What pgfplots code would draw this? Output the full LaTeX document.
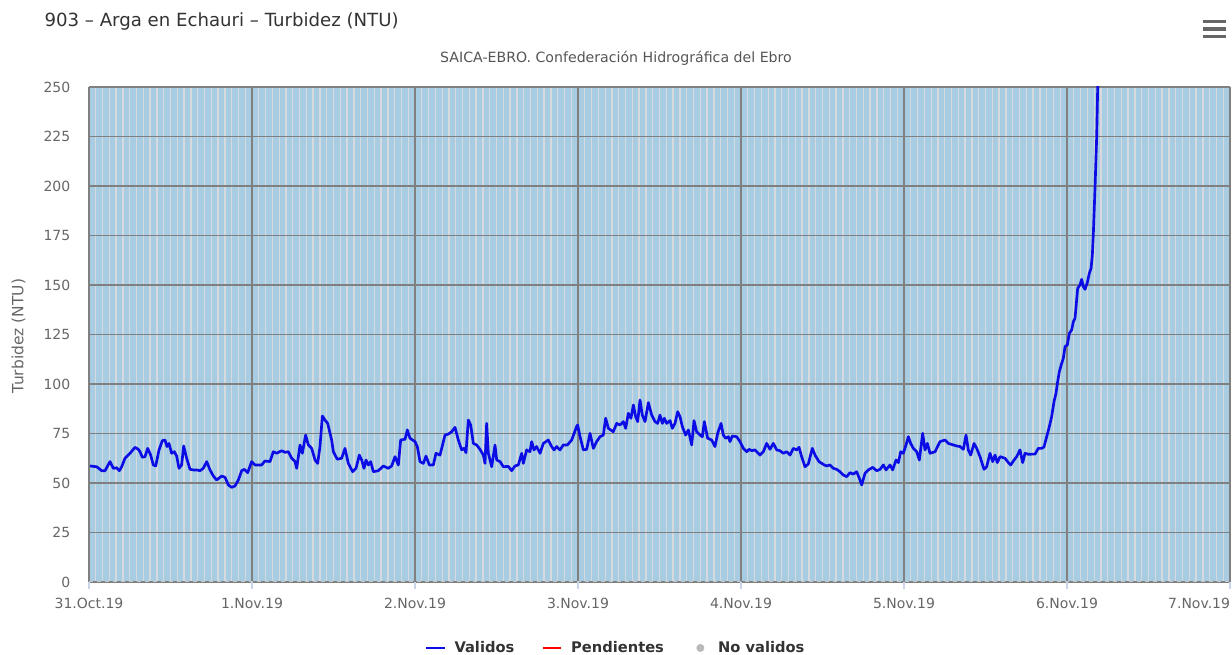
\documentclass[border=0pt]{standalone}
\usepackage{fontspec}
\setmainfont{DejaVu Sans}
\usepackage{pgfplots}
\usepackage{pgfplotstable}
\pgfplotsset{compat=1.18}
\definecolor{plotbg}{RGB}{168,204,226}
\definecolor{hourline}{RGB}{214,217,221}
\definecolor{gridgray}{RGB}{128,128,128}
\definecolor{txtgray}{RGB}{102,102,102}
\definecolor{subgray}{RGB}{85,85,85}
\definecolor{titlegray}{RGB}{51,51,51}
\definecolor{serieblue}{RGB}{12,12,228}
\definecolor{tickblue}{RGB}{204,214,235}

% hours since 31 Oct 2019 00:00, turbidity (NTU)
\pgfplotstableread{
h v
0.15 58.6
1.13 58.2
1.87 56.2
2.36 56.2
3.09 60.8
3.58 57.4
4.07 57.7
4.47 56.2
4.81 58.2
5.30 62.5
6.04 65.0
6.77 68.0
7.26 67.0
7.51 65.8
7.85 63.0
8.25 63.3
8.64 67.5
9.08 64.1
9.47 59.1
9.82 58.6
10.31 66.7
10.80 71.4
11.19 71.7
11.48 68.4
11.78 70.0
12.17 65.0
12.56 65.8
12.91 63.6
13.25 57.4
13.64 59.1
13.94 68.7
14.38 62.5
14.87 56.9
15.36 56.6
15.85 56.6
16.34 56.2
16.83 57.4
17.33 60.8
17.82 56.6
18.31 53.5
18.80 51.5
19.53 53.5
20.02 52.9
20.52 49.0
21.01 47.8
21.50 48.5
21.99 51.5
22.48 56.2
22.87 56.9
23.36 55.2
23.95 60.8
24.44 59.1
25.42 59.1
25.91 61.1
26.65 60.8
27.14 65.8
27.63 65.0
28.37 66.3
28.86 65.5
29.35 65.8
29.84 62.5
30.33 60.8
30.58 57.4
31.07 69.2
31.41 65.0
31.90 74.2
32.30 69.2
32.79 67.5
33.28 61.6
33.67 59.9
34.01 68.4
34.36 83.8
34.75 81.8
35.14 80.1
35.73 71.7
35.98 65.8
36.56 62.0
37.20 62.5
37.69 67.5
38.18 59.9
38.82 55.7
39.31 57.4
39.80 64.1
40.15 61.6
40.49 57.4
40.79 61.6
41.13 59.1
41.47 60.8
41.87 55.7
42.60 56.2
43.34 58.6
44.07 57.4
44.56 58.6
45.06 63.3
45.55 59.1
45.89 71.7
46.53 72.1
46.87 76.8
47.26 72.6
48.00 70.9
48.34 68.4
48.74 60.8
49.23 59.9
49.62 63.6
50.11 59.1
50.70 59.1
51.09 65.0
51.68 64.1
52.42 74.2
52.91 74.7
53.40 75.9
53.89 78.1
54.38 71.7
54.87 66.7
55.22 67.5
55.51 65.3
55.85 81.8
56.20 79.3
56.59 70.0
57.08 69.2
57.57 67.0
58.06 64.1
58.31 59.9
58.55 80.1
58.80 65.0
59.29 58.2
59.78 69.2
60.03 61.6
60.52 60.8
61.01 58.2
61.74 58.4
62.23 56.2
62.72 58.6
63.21 59.1
63.71 65.0
63.95 59.9
64.44 66.7
64.93 65.8
65.18 70.9
65.52 66.7
65.91 68.4
66.41 65.0
66.90 70.0
67.63 71.7
68.12 68.4
68.47 66.7
68.86 68.4
69.35 66.7
69.84 69.2
70.43 69.2
71.07 71.7
71.80 78.5
71.95 79.3
72.30 73.4
72.79 66.7
73.28 67.0
73.77 75.1
74.26 67.5
74.75 70.9
75.24 73.4
75.73 74.2
76.07 82.7
76.47 77.6
77.20 75.9
77.69 80.1
78.18 79.3
78.67 81.0
79.02 77.6
79.41 85.2
79.80 82.7
80.15 89.4
80.49 83.5
80.79 81.0
81.13 91.9
81.47 84.3
81.87 81.0
82.36 90.6
82.85 84.3
83.34 81.0
83.73 80.1
84.07 84.3
84.42 80.1
84.71 82.7
85.06 80.1
85.55 81.5
85.89 77.6
86.28 80.1
86.68 86.0
87.02 83.5
87.36 78.5
87.85 74.2
88.25 76.8
88.74 69.2
89.08 81.5
89.47 75.9
89.96 74.2
90.31 73.4
90.60 81.0
91.09 72.6
91.68 71.7
92.17 68.4
92.57 75.1
93.06 80.1
93.40 74.2
93.74 72.6
94.14 73.4
94.38 70.9
94.72 73.7
95.36 73.4
95.85 70.9
96.34 67.5
96.84 65.8
97.18 67.0
97.57 66.3
98.06 66.7
98.80 64.1
99.29 65.8
99.78 70.0
100.27 67.0
100.76 70.0
101.25 66.7
101.74 66.3
102.23 65.0
102.72 65.8
103.21 64.1
103.71 67.5
104.20 66.7
104.54 68.0
104.93 63.3
105.42 58.2
105.91 59.6
106.50 67.5
106.90 64.1
107.48 60.8
108.27 59.1
108.61 58.6
109.10 59.1
109.60 57.4
110.09 56.9
110.58 55.7
111.07 54.0
111.56 53.2
112.05 55.2
112.54 54.5
113.03 55.7
113.42 52.4
113.77 49.0
114.26 54.9
114.75 56.6
115.39 57.9
115.98 56.2
116.47 56.9
116.96 59.1
117.35 56.6
117.94 59.1
118.33 56.6
118.82 61.6
119.17 60.3
119.51 65.8
119.90 65.0
120.30 69.2
120.64 73.4
120.98 70.0
121.37 67.5
121.87 65.8
122.26 61.6
122.75 75.1
123.09 66.7
123.44 70.0
123.83 65.0
124.57 65.8
125.30 70.9
126.04 71.7
126.53 70.0
127.27 69.2
127.76 68.7
128.25 68.4
128.74 67.0
129.13 74.2
129.47 66.7
129.82 64.1
130.31 70.0
130.70 67.5
131.19 63.3
131.78 56.9
132.17 58.2
132.66 65.0
133.06 60.8
133.40 64.1
133.74 60.3
134.14 63.3
134.87 62.5
135.36 60.3
135.71 59.1
136.20 61.6
136.59 63.3
137.08 66.7
137.47 60.3
137.82 65.0
138.31 64.5
139.04 64.6
139.29 64.6
139.78 67.5
140.27 67.5
140.61 68.2
141.01 73.4
141.40 78.5
141.74 83.5
142.09 91.1
142.38 95.3
142.58 100.3
142.87 106.2
143.21 110.4
143.46 113.0
143.71 118.9
144.05 119.7
144.34 125.6
144.69 127.3
144.93 131.5
145.18 133.2
145.42 142.4
145.57 148.3
145.91 150.0
146.16 152.9
146.40 149.2
146.65 147.8
146.99 151.2
147.29 155.9
147.54 158.4
147.73 165.0
147.88 176.1
148.13 199.6
148.37 224.9
148.52 250.0
148.60 262.0
}\turbidez

\begin{document}
\begin{tikzpicture}
\useasboundingbox (-66.75pt,-54.75pt) rectangle (857.25pt,436.5pt);
\begin{axis}[
  scale only axis,
  width=855.75pt, height=371.25pt,
  xmin=0, xmax=168, ymin=0, ymax=250,
  axis background/.style={fill=plotbg},
  axis line style={draw=none},
  xtick={0,24,...,168},
  xticklabels={31.Oct.19,1.Nov.19,2.Nov.19,3.Nov.19,4.Nov.19,5.Nov.19,6.Nov.19,\llap{7.Nov.19}},
  minor xtick={0,1,...,168},
  ytick={0,25,...,250},
  grid=both,
  major grid style={gridgray, line width=1pt},
  minor grid style={hourline, line width=1pt},
  xtick pos=lower, ytick pos=left,
  tick align=outside,
  major tick length=5.25pt,
  minor tick length=0pt,
  xtick style={tickblue, line width=0.8pt},
  ytick style={draw=none},
  /pgf/number format/assume math mode=true,
  ticklabel style={font=\fontsize{10.5}{12}\selectfont, text=txtgray},
  xticklabel style={yshift=-3pt},
  yticklabel style={xshift=-5.25pt, /pgf/number format/.cd, fixed, 1000 sep={}},
  ylabel={Turbidez (NTU)},
  ylabel style={at={(axis description cs:-0.0618,0.497)}, anchor=center,
    font=\fontsize{11.6}{13}\selectfont, text=txtgray},
  clip=true,
  legend style={at={(axis description cs:0.4619,-0.1333)}, anchor=center,
    draw=none, fill=none, text=titlegray,
    font=\bfseries\fontsize{11}{13}\selectfont,
    /tikz/every odd column/.append style={column sep=4.5pt},
    /tikz/every even column/.append style={column sep=18.5pt}},
  legend columns=3,
  legend cell align=left,
  legend image code/.code={\draw[#1] (0cm,0cm) -- (0.48cm,0cm);},
]
\draw[gray!45, dashed, line width=0.8pt] (rel axis cs:0,0) -- (rel axis cs:1,0);
\addplot[serieblue, line width=2pt, line join=round] table[x=h, y=v] {\turbidez};
\addlegendentry{Validos}
\addlegendimage{red, line width=2pt}
\addlegendentry{Pendientes}
\addlegendimage{legend image code/.code={\path[draw=none, fill=none] (0cm,-0.1cm) rectangle (0.48cm,0.1cm); \fill[gray!55, draw=none] (0.24cm,0cm) circle (3pt);}}
\addlegendentry{No validos}
\end{axis}
\node[anchor=base west, inner sep=0pt, text=titlegray, font=\fontsize{13.6}{16}\selectfont] at (-33.5pt,416.25pt) {903 – Arga en Echauri – Turbidez (NTU)};
\node[anchor=base, text=subgray, font=\fontsize{10.6}{12}\selectfont] at (395.25pt,389.5pt) {SAICA-EBRO. Confederación Hidrográfica del Ebro};
\foreach \yy in {420.5,414.75,409} {
  \draw[txtgray, line width=2.6pt] (835.5pt,\yy pt) -- (852.75pt,\yy pt);
}
\end{tikzpicture}
\end{document}
